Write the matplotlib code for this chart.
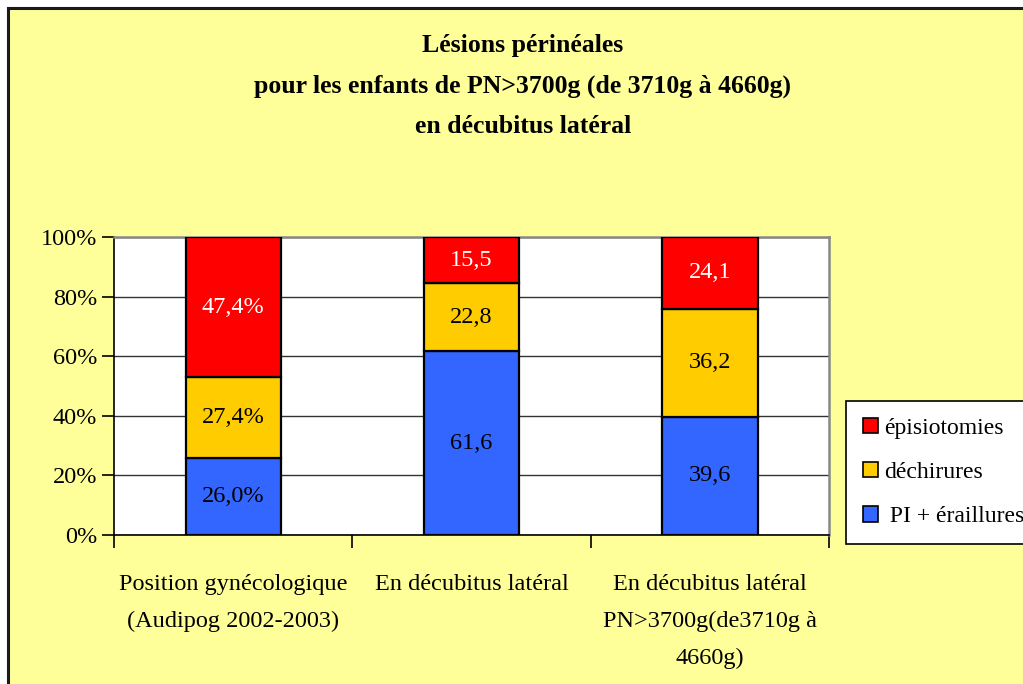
import matplotlib
matplotlib.use("Agg")
import matplotlib.pyplot as plt
from matplotlib.patches import Rectangle, Patch
import numpy as np

categories = [
    "Position gynécologique\n(Audipog 2002-2003)",
    "En décubitus latéral",
    "En décubitus latéral\nPN>3700g(de3710g à\n4660g)",
]
series_names = ["PI + éraillures", "déchirures", "épisiotomies"]
pi_eraillures = [26.0, 61.6, 39.6]
dechirures = [27.4, 22.8, 36.2]
episiotomies = [47.4, 15.5, 24.1]
label_suffix = ["%", "", ""]
colors = ["#3366FF", "#FFCC00", "#FF0000"]
label_colors = ["black", "black", "white"]
yticks = [0, 20, 40, 60, 80, 100]

plt.rcParams["font.family"] = ["Liberation Serif", "DejaVu Serif"]

fig = plt.figure(figsize=(10.23, 6.84), dpi=100, facecolor="white")
W, H = 1023, 684

# chart background frame
fig.patches.append(Rectangle((8 / W, -0.05), 1.1, 1 - 8 / H + 0.05,
                             transform=fig.transFigure, facecolor="#FFFF99",
                             edgecolor="#1a1a1a", linewidth=2.2, zorder=-5))

ax = fig.add_axes([114 / W, 1 - 535 / H, (829 - 114) / W, (535 - 237) / H])
ax.set_zorder(2)
ax.set_facecolor("white")

series = [pi_eraillures, dechirures, episiotomies]
totals = np.sum(series, axis=0)
x = np.arange(len(categories))
bottom = np.zeros(len(categories))
for vals, col, tcol in zip(series, colors, label_colors):
    vals = np.array(vals)
    pct = vals / totals * 100
    ax.bar(x, pct, width=0.4, bottom=bottom, color=col, edgecolor="black",
           linewidth=1.6, zorder=3)
    for i in range(len(x)):
        txt = f"{vals[i]:.1f}".replace(".", ",") + label_suffix[i]
        ax.text(x[i], bottom[i] + pct[i] / 2, txt, ha="center", va="center",
                fontsize=17.5, color=tcol, zorder=4)
    bottom += pct

ax.set_xlim(-0.5, 2.5)
ax.set_ylim(0, 100)
ax.set_yticks(yticks)
ax.set_yticklabels([f"{v}%" for v in yticks], fontsize=17.5)
ax.yaxis.grid(True, color="#333333", linewidth=1.0, zorder=1)
ax.set_axisbelow(True)

ax.set_xticks(x)
ax.set_xticklabels(categories, fontsize=17.5, linespacing=1.97, va="top")
ax.tick_params(axis="x", which="major", length=0, pad=28)
ax.set_xticks([-0.5, 0.5, 1.5, 2.5], minor=True)
ax.tick_params(axis="x", which="minor", length=9, width=1.2, color="black",
               direction="out")
ax.tick_params(axis="y", length=9, width=1.2, color="black", direction="out",
               pad=3)

for side in ["top", "right"]:
    ax.spines[side].set_color("#888888")
    ax.spines[side].set_linewidth(1.8)
for side in ["left", "bottom"]:
    ax.spines[side].set_color("black")
    ax.spines[side].set_linewidth(1.2)

fig.text(523 / W, 1 - 34 / H,
         "Lésions périnéales\npour les enfants de PN>3700g (de 3710g à 4660g)\nen décubitus latéral",
         ha="center", va="top", fontsize=18.5, fontweight="bold",
         linespacing=1.95)

handles = [Patch(facecolor=colors[i], edgecolor="black", linewidth=1.2)
           for i in (2, 1, 0)]
labels = [series_names[2], series_names[1], " " + series_names[0]]
leg = fig.legend(handles, labels, loc="upper left",
                 bbox_to_anchor=(846 / W, 1 - 401 / H), fontsize=17,
                 frameon=True, fancybox=False, edgecolor="black",
                 framealpha=1.0,
                 handlelength=0.62, handleheight=0.62, handletextpad=0.28,
                 labelspacing=0.98, borderpad=0.72, borderaxespad=0)
leg.get_frame().set_linewidth(1.2)
leg.get_frame().set_facecolor("white")
leg.set_zorder(5)

fig.savefig("out.png", dpi=100, facecolor="white")
